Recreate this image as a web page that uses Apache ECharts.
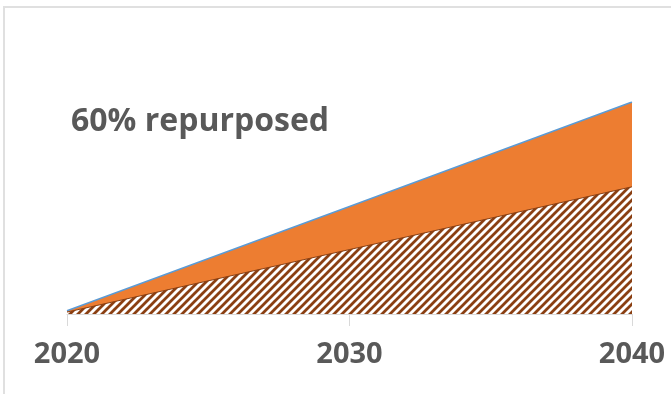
<!DOCTYPE html>
<html>
<head>
<meta charset="utf-8">
<script src="https://cdn.jsdelivr.net/npm/echarts@6/dist/echarts.min.js"></script>
<style>
  html, body { margin: 0; padding: 0; background: #fff; }
  #frame { position: absolute; left: 3px; top: 6px; width: 700px; height: 400px;
           border-left: 2px solid #e0e0e0; border-top: 2px solid #e0e0e0; }
  #main { position: absolute; left: 0; top: 0; width: 671px; height: 394px; }
</style>
</head>
<body>
<div id="frame"></div>
<div id="main"></div>
<script>
var years = [2020, 2030, 2040];
var totalValues = [1.5, 50.7, 100];       // whole area (orange)
var repurposedValues = [0.9, 30.4, 60];   // 60% repurposed (hatched)

// diagonal hatch pattern, brown stripes on white
function makeHatch() {
    var size = 8;
    var c = document.createElement('canvas');
    c.width = size;
    c.height = size;
    var ctx = c.getContext('2d');
    ctx.fillStyle = '#ffffff';
    ctx.fillRect(0, 0, size, size);
    ctx.strokeStyle = '#8a3f12';
    ctx.lineWidth = 2.8;
    ctx.beginPath();
    ctx.moveTo(-size, size * 2);
    ctx.lineTo(size * 2, -size);
    ctx.moveTo(-size, size);
    ctx.lineTo(size, -size);
    ctx.moveTo(0, size * 2);
    ctx.lineTo(size * 2, 0);
    ctx.stroke();
    return c;
}

var totalData = [];
var repData = [];
for (var i = 0; i < years.length; i++) {
    totalData.push([years[i], totalValues[i]]);
    repData.push([years[i], repurposedValues[i]]);
}

var chart = echarts.init(document.getElementById('main'));
var option = {
    animation: false,
    title: {
        text: '60% repurposed',
        left: 66,
        top: 101,
        textStyle: {
            fontFamily: 'Open Sans',
            fontWeight: 'bold',
            fontSize: 32,
            color: '#595959'
        }
    },
    grid: {
        left: 67,
        right: 39,
        top: 102,
        bottom: 80
    },
    xAxis: {
        type: 'value',
        min: 2020,
        max: 2040,
        interval: 10,
        axisLine: { lineStyle: { color: '#d9d9d9', width: 1 } },
        axisTick: { show: true, length: 12, lineStyle: { color: '#d9d9d9' } },
        splitLine: { show: false },
        axisLabel: {
            margin: 26,
            fontFamily: 'Open Sans',
            fontWeight: 'bold',
            fontSize: 29,
            color: '#595959',
            formatter: function (v) { return String(v); }
        }
    },
    yAxis: {
        type: 'value',
        min: 0,
        max: 100,
        show: false
    },
    series: [
        {
            name: 'total',
            type: 'line',
            data: totalData,
            symbol: 'none',
            lineStyle: { color: '#5b9bd5', width: 1.5 },
            areaStyle: { color: '#ed7d31', opacity: 1 }
        },
        {
            name: 'repurposed',
            type: 'line',
            data: repData,
            symbol: 'none',
            lineStyle: { color: '#8a3f12', width: 1 },
            areaStyle: {
                color: { image: makeHatch(), repeat: 'repeat' },
                opacity: 1
            }
        }
    ]
};
chart.setOption(option);
</script>
</body>
</html>
